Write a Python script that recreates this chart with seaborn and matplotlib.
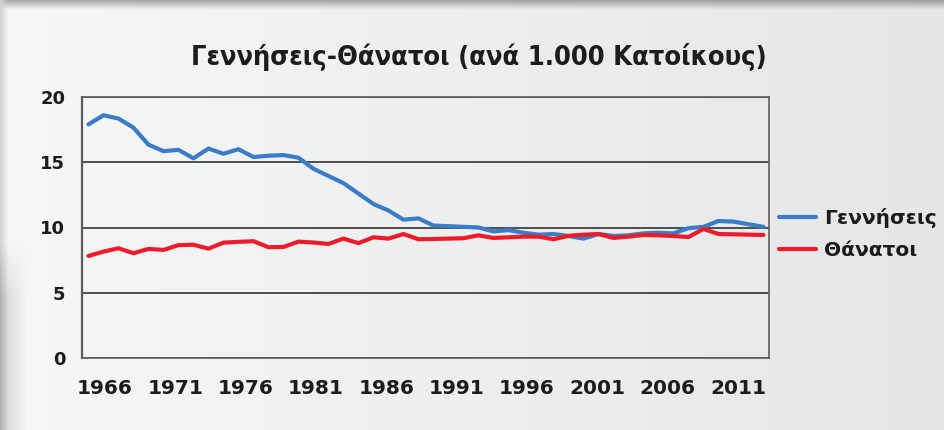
import numpy as np
import pandas as pd
import matplotlib
matplotlib.use("Agg")
import matplotlib.pyplot as plt
import seaborn as sns

# ---------------- data ----------------
years = list(range(1966, 2012))
births = [17.9, 18.6, 18.35, 17.65, 16.35, 15.85, 15.95, 15.3, 16.05, 15.65,
          16.0, 15.4, 15.5, 15.55, 15.35, 14.5, 13.95, 13.4, 12.6, 11.8,
          11.3, 10.6, 10.7, 10.15, 10.1, 10.05, 10.0, 9.7, 9.8, 9.6,
          9.45, 9.5, 9.35, 9.15, 9.5, 9.35, 9.4, 9.55, 9.6, 9.55,
          9.95, 10.05, 10.5, 10.45, 10.25, 10.05]
deaths = [7.82, 8.15, 8.41, 8.03, 8.36, 8.28, 8.65, 8.68, 8.38, 8.84,
          8.9, 8.95, 8.49, 8.51, 8.92, 8.85, 8.74, 9.15, 8.8, 9.25,
          9.15, 9.5, 9.1, 9.12, 9.15, 9.18, 9.4, 9.2, 9.25, 9.3,
          9.3, 9.1, 9.36, 9.45, 9.5, 9.2, 9.3, 9.43, 9.4, 9.35,
          9.27, 9.89, 9.5, 9.48, 9.45, 9.43]
series_names = ["Γεννήσεις", "Θάνατοι"]
x_tick_labels = ["1966", "1971", "1976", "1981", "1986",
                 "1991", "1996", "2001", "2006", "2011"]
y_ticks = [0, 5, 10, 15, 20]
title = "Γεννήσεις-Θάνατοι (ανά 1.000 Κατοίκους)"

df = pd.DataFrame({
    "Έτος": years + years,
    "Τιμή": births + deaths,
    "Σειρά": [series_names[0]] * len(years) + [series_names[1]] * len(years),
})

# ---------------- style ----------------
sns.set_theme(style="white")
plt.rcParams["font.family"] = ["DejaVu Sans"]
blue = "#3b7cc6"
red = "#ee1c2a"
txt = "#1c1c1c"

W, H = 945, 430
fig = plt.figure(figsize=(W / 100, H / 100), dpi=100)

# background panel (gradient + shadow edges)
bg = fig.add_axes([0, 0, 1, 1], zorder=-10)
xx = np.linspace(0, 1, W)[None, :]
yy = np.arange(H)[:, None]
c0 = np.array([0xf6, 0xf7, 0xf7]) / 255
c1 = np.array([0xe4, 0xe6, 0xe7]) / 255
img = c0[None, None, :] * (1 - xx[..., None]) + c1[None, None, :] * xx[..., None]
img = np.broadcast_to(img, (H, W, 3)).copy()
top = np.clip(yy / 9.0, 0, 1)[..., None]
dark = np.array([0.45, 0.45, 0.45])
img = img * top + (dark * 0.6 + img * 0.4) * (1 - top)
xs = np.arange(W)[None, :]
left = np.clip(xs / 8.0, 0, 1)[..., None]
img = img * left + np.array([0.82, 0.82, 0.82]) * (1 - left)
blob = np.clip((28 - xs) / 28.0, 0, 1) * np.clip((yy - 240) / 60.0, 0, 1)
img = img * (1 - 0.15 * blob[..., None])
bg.imshow(img, aspect="auto", extent=[0, 1, 0, 1])
bg.set_axis_off()

ax = fig.add_axes([82 / W, 1 - 358 / H, (769 - 82) / W, (358 - 97) / H])
ax.set_facecolor("none")

sns.lineplot(data=df, x="Έτος", y="Τιμή", hue="Σειρά",
             palette=[blue, red], linewidth=3.0, ax=ax, legend=True)

ax.set_xlim(1965.57, 2011.37)
ax.set_ylim(0, 20)
ax.set_yticks(y_ticks)
ax.set_yticklabels([str(v) for v in y_ticks])
# tick labels placed where the reference shows them (evenly spaced)
tick_pos = np.linspace(1967.1, 2009.3, len(x_tick_labels))
ax.set_xticks(tick_pos)
ax.set_xticklabels(x_tick_labels)
ax.tick_params(axis="x", length=0, pad=15, labelsize=14.5, labelcolor=txt)
ax.tick_params(axis="y", length=0, pad=12, labelsize=13, labelcolor=txt)
for lab in ax.get_xticklabels() + ax.get_yticklabels():
    lab.set_fontweight("bold")
ax.set_xlabel("")
ax.set_ylabel("")
ax.yaxis.grid(True, color="#333333", linewidth=1.2)
ax.xaxis.grid(False)
for s in ax.spines.values():
    s.set_color("#5c5c5c")
    s.set_linewidth(1.2)
ax.spines["left"].set_linewidth(1.6)

leg = ax.legend(loc="center left", bbox_to_anchor=(779 / W, 1 - 234 / H),
                bbox_transform=fig.transFigure, frameon=False,
                borderpad=0, borderaxespad=0, handlelength=1.85,
                handletextpad=0.4, labelspacing=0.62,
                prop={"weight": "bold", "size": 14.5})
for t in leg.get_texts():
    t.set_color(txt)
for h in leg.get_lines():
    h.set_linewidth(3.0)

fig.text(479 / W, 1 - 65 / H, title, ha="center", va="baseline",
         fontsize=19.5, fontweight="bold", fontstretch="condensed",
         color=txt)

fig.savefig("out.png", dpi=100)
